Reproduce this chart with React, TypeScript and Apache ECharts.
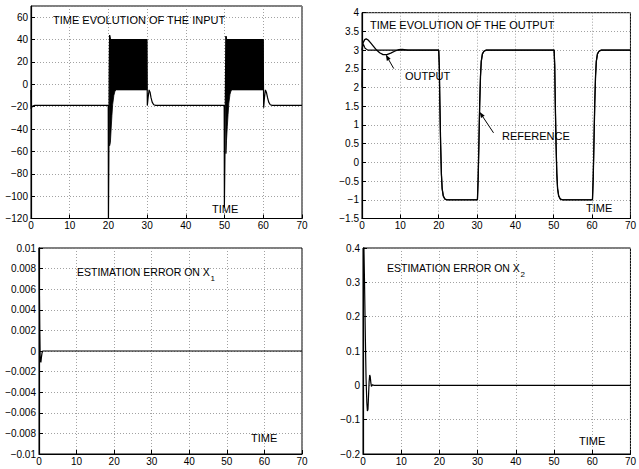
import React, { useEffect, useRef } from "react";
import * as echarts from "echarts";

// ---- data ----
const xTicks = [0, 10, 20, 30, 40, 50, 60, 70];

// Input (top-left)
const inputT = [0, 0.05, 0.15, 0.3, 0.6, 1.0, 19.95, 20.0, 20.1, 20.2, 20.3, 20.45, 29.9, 29.95, 30.05, 30.25, 30.5, 30.75, 31.0, 31.3, 31.7, 32.2, 49.9, 49.95, 50.1, 50.25, 50.35, 50.5, 59.95, 60.0, 60.1, 60.3, 60.55, 60.8, 61.1, 61.4, 61.8, 62.3, 70];
const inputV = [-5, -22, -21, -19.8, -19.2, -18.8, -18.8, -125, -70, 10, 44, 40, 40, 25, -19, -12, -5, -7, -12, -16, -18.3, -18.8, -18.8, -110, -60, 10, 43, 40, 40, 20, -21, -12, -5, -7, -12, -16, -18.3, -18.8, -18.8];
// chattering envelopes
const band1T = [20.3, 20.5, 20.7, 20.9, 21.1, 21.4, 21.7, 22.0, 29.95];
const band1Low = [-55, -52, -40, -28, -18, -10, -6, -5, -5];
const band1High = [44, 41, 40, 40, 40, 40, 40, 40, 40];
const band2T = [50.35, 50.5, 50.7, 50.9, 51.1, 51.4, 51.7, 52.0, 60.0];
const band2Low = [-62, -50, -38, -27, -17, -9, -5.5, -5, -5];
const band2High = [43, 41, 40, 40, 40, 40, 40, 40, 40];

// Output (top-right)
const refT = [0, 0.15, 0.4, 0.8, 1.5, 20.0, 20.15, 20.3, 20.5, 20.7, 20.9, 21.2, 21.6, 22.2, 30.1, 30.3, 30.5, 30.7, 30.9, 31.1, 31.4, 31.8, 32.4, 50.1, 50.25, 50.4, 50.6, 50.8, 51.0, 51.3, 51.7, 52.3, 60.1, 60.3, 60.5, 60.7, 60.9, 61.1, 61.4, 61.8, 62.4, 70];
const refV = [2.0, 3.1, 3.15, 3.05, 3.0, 3.0, 2.6, 1.6, 0.5, -0.3, -0.7, -0.9, -0.98, -1.0, -1.0, -0.4, 0.6, 1.6, 2.3, 2.7, 2.9, 2.97, 3.0, 3.0, 2.6, 1.6, 0.5, -0.3, -0.7, -0.9, -0.98, -1.0, -1.0, -0.4, 0.6, 1.6, 2.3, 2.7, 2.9, 2.97, 3.0, 3.0];
const outT = [0, 0.3, 0.7, 1.1, 1.6, 2.2, 3.0, 3.8, 4.6, 5.5, 6.5, 7.5, 8.5, 9.5, 10.5, 12, 20.0, 20.15, 20.3, 20.5, 20.7, 20.9, 21.2, 21.6, 22.2, 30.1, 30.3, 30.5, 30.7, 30.9, 31.1, 31.4, 31.8, 32.4, 50.1, 50.25, 50.4, 50.6, 50.8, 51.0, 51.3, 51.7, 52.3, 60.1, 60.3, 60.5, 60.7, 60.9, 61.1, 61.4, 61.8, 62.4, 70];
const outV = [3.0, 3.2, 3.28, 3.3, 3.27, 3.2, 3.1, 3.0, 2.93, 2.88, 2.88, 2.92, 2.97, 3.01, 3.02, 3.0, 3.0, 2.6, 1.6, 0.5, -0.3, -0.7, -0.9, -0.98, -1.0, -1.0, -0.4, 0.6, 1.6, 2.3, 2.7, 2.9, 2.97, 3.0, 3.0, 2.6, 1.6, 0.5, -0.3, -0.7, -0.9, -0.98, -1.0, -1.0, -0.4, 0.6, 1.6, 2.3, 2.7, 2.9, 2.97, 3.0, 3.0];

// Estimation error on x1 (bottom-left)
const e1T = [0, 0.1, 0.2, 0.3, 0.4, 0.5, 0.65, 0.8, 1.0, 70];
const e1V = [0.012, 0.006, 0.002, -0.0004, -0.001, -0.0011, -0.0006, -0.0002, 0, 0];

// Estimation error on x2 (bottom-right)
const e2T = [0, 0.2, 0.4, 0.6, 0.8, 1.0, 1.15, 1.3, 1.45, 1.6, 1.75, 1.9, 2.05, 2.2, 2.5, 2.8, 70];
const e2V = [0.45, 0.42, 0.3, 0.15, 0.02, -0.05, -0.075, -0.07, -0.03, 0.01, 0.03, 0.025, 0.008, -0.003, 0.002, 0, 0];

// axis ranges
const yRanges = [
  { min: -120, max: 70, interval: 20 },
  { min: -1.5, max: 4, interval: 0.5 },
  { min: -0.01, max: 0.01, interval: 0.002 },
  { min: -0.2, max: 0.4, interval: 0.1 },
];

const FONT = "Liberation Sans, Arial, Helvetica, sans-serif";

const zip = (t: number[], v: number[]) => t.map((x, i) => [x, v[i]]);

export default function App() {
  const ref = useRef<HTMLDivElement>(null);
  useEffect(() => {
    const chart = echarts.init(ref.current!, null, { renderer: "svg" });
    const grids = [
      { left: 31, top: 6, width: 271, height: 212.5 },
      { left: 362, top: 12.7, width: 273, height: 205.8 },
      { left: 39, top: 248, width: 263, height: 206 },
      { left: 363, top: 248, width: 272, height: 206 },
    ].map((g) => ({ ...g, show: true, borderColor: "#000", borderWidth: 1, backgroundColor: "transparent" }));

    const fmt = (v: number) => {
      const s = String(parseFloat(Number(v).toPrecision(6)));
      return s.replace("-", "\u2212");
    };

    const splitLine = { show: true, lineStyle: { color: "#8a8a8a", width: 0.8, type: [1, 2] } };
    const xAxis = grids.map((_, i) => ({
      type: "value",
      gridIndex: i,
      min: xTicks[0],
      max: xTicks[xTicks.length - 1],
      interval: 10,
      axisLine: { show: true, onZero: false, lineStyle: { color: "#000", width: 1.2 } },
      axisTick: { show: true, inside: true, length: 4, lineStyle: { color: "#000" } },
      axisLabel: { color: "#000", fontSize: 10, fontFamily: FONT, margin: 2, formatter: fmt },
      splitLine,
    }));
    const yAxis = yRanges.map((r, i) => ({
      type: "value",
      gridIndex: i,
      min: r.min,
      max: r.max,
      interval: r.interval,
      axisLine: { show: true, onZero: false, lineStyle: { color: "#000", width: 1.2 } },
      axisTick: { show: true, inside: true, length: 4, lineStyle: { color: "#000" } },
      axisLabel: { color: "#000", fontSize: 10, fontFamily: FONT, margin: 3, formatter: fmt, showMaxLabel: i !== 0 },
      splitLine,
    }));

    const line = (i: number, data: number[][], w = 1.2) => ({
      type: "line",
      xAxisIndex: i,
      yAxisIndex: i,
      data,
      symbol: "none",
      clip: true,
      lineStyle: { color: "#000", width: w },
      z: 3,
    });

    const bands = [
      { t: band1T, low: band1Low, high: band1High },
      { t: band2T, low: band2Low, high: band2High },
    ];
    const bandSeries = {
      type: "custom",
      xAxisIndex: 0,
      yAxisIndex: 0,
      data: bands.map((_, i) => [i]),
      renderItem: (params: any, api: any) => {
        const b = bands[api.value(0)];
        const upper = b.t.map((t, k) => api.coord([t, b.high[k]]));
        const lower = b.t.map((t, k) => api.coord([t, b.low[k]])).reverse();
        return {
          type: "polygon",
          shape: { points: [...upper, ...lower] },
          style: { fill: "#000", stroke: "#000", lineWidth: 0.8 },
        };
      },
      z: 2,
    };

    const txt = (x: number, y: number, text: string, size = 11) => ({
      type: "text",
      x,
      y,
      style: { text, fontSize: size, fontFamily: FONT, fill: "#000", textAlign: "left", textVerticalAlign: "middle" },
      z: 10,
    });

    chart.setOption({
      animation: false,
      grid: grids,
      xAxis,
      yAxis,
      series: [
        bandSeries,
        line(0, zip(inputT, inputV)),
        line(1, zip(refT, refV), 1.1),
        line(1, zip(outT, outV), 1.3),
        line(2, zip(e1T, e1V)),
        line(3, zip(e2T, e2V)),
      ],
    });

    // arrows pointing at data locations
    const arrow = (tip: number[], tail: number[]) => {
      const dx = tip[0] - tail[0];
      const dy = tip[1] - tail[1];
      const len = Math.hypot(dx, dy);
      const ux = dx / len;
      const uy = dy / len;
      const bx = tip[0] - ux * 6;
      const by = tip[1] - uy * 6;
      const px = -uy * 2.2;
      const py = ux * 2.2;
      return [
        { type: "line", shape: { x1: tail[0], y1: tail[1], x2: bx, y2: by }, style: { stroke: "#000", lineWidth: 1 }, z: 10 },
        { type: "polygon", shape: { points: [tip, [bx + px, by + py], [bx - px, by - py]] }, style: { fill: "#000" }, z: 10 },
      ];
    };
    const outTip = chart.convertToPixel({ gridIndex: 1 }, [6.2, 2.88]) as number[];
    const refTip = chart.convertToPixel({ gridIndex: 1 }, [30.65, 1.35]) as number[];

    chart.setOption({
      graphic: [
        txt(53, 20, "TIME EVOLUTION OF THE INPUT"),
        txt(212, 209, "TIME"),
        txt(370, 25, "TIME EVOLUTION OF THE OUTPUT"),
        txt(405, 76, "OUTPUT"),
        txt(502, 136, "REFERENCE"),
        txt(586, 208, "TIME"),
        txt(77, 272, "ESTIMATION ERROR ON X", 10.5),
        txt(210.5, 278, "1", 8),
        txt(251, 438, "TIME"),
        txt(387, 268, "ESTIMATION ERROR ON X", 10.5),
        txt(520.5, 274, "2", 8),
        txt(579, 441, "TIME"),
        ...arrow(outTip, [outTip[0] + 8, outTip[1] + 14]),
        ...arrow(refTip, [refTip[0] + 14, refTip[1] + 21]),
      ],
    });
    return () => chart.dispose();
  }, []);
  return <div ref={ref} style={{ position: "absolute", left: 0, top: 0, width: 639, height: 469 }} />;
}
